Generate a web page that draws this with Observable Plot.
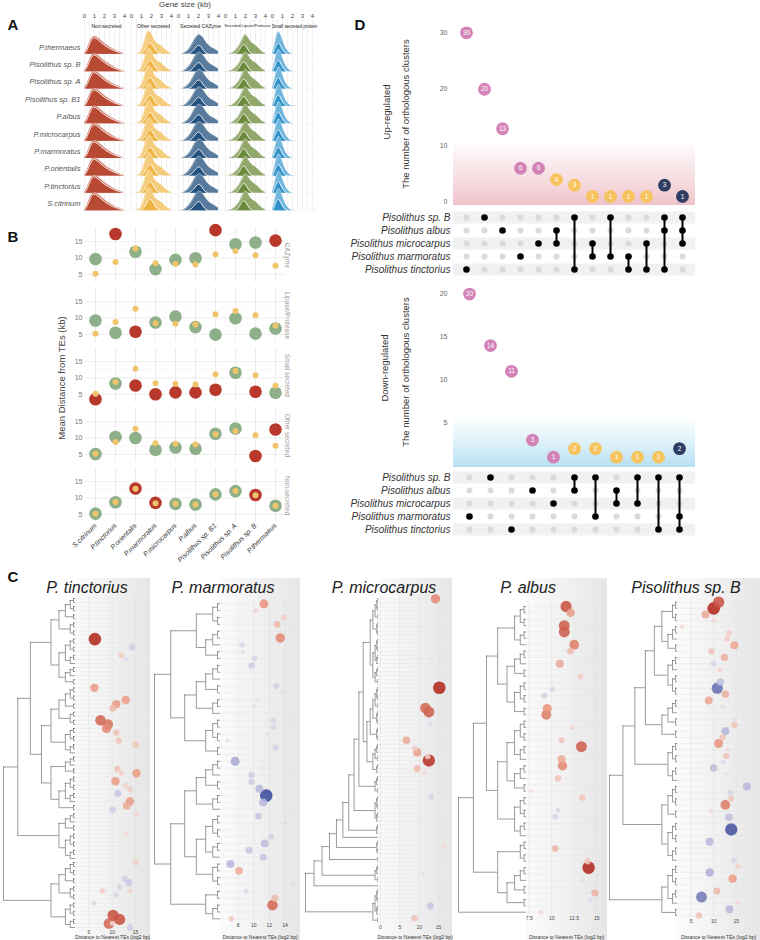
<!DOCTYPE html>
<html><head><meta charset="utf-8">
<script src="https://cdn.jsdelivr.net/npm/d3@7"></script>
<script src="https://cdn.jsdelivr.net/npm/@observablehq/plot@0.6"></script>
<style>
body{margin:0;background:#fff;font-family:"Liberation Sans",Arial,sans-serif;}
#fig{position:relative;width:760px;height:940px;overflow:hidden;background:#fff;}
.lbl{position:absolute;white-space:nowrap;line-height:1;}
</style></head><body><div id="fig"></div>
<script>
// ================= DATA =================
// ---- Panel A: gene size ridgelines ----
const geneSize = [0,0.25,0.5,0.75,1,1.25,1.5,1.75,2,2.25,2.5,2.75,3,3.25,3.5,3.75,4];
const speciesA = ["P.thermaeus","Pisolithus sp. B","Pisolithus sp. A","Pisolithus sp. B1","P.albus","P.microcarpus","P.marmoratus","P.orientalis","P.tinctorius","S.citrinum"];
const catsA = ["Non-secreted","Other secreted","Secreted CAZyme","Secreted Lipase/Protease","Small secreted protein"];
const densNonSec  = [0.02,0.25,0.62,0.90,1.00,0.95,0.84,0.72,0.60,0.50,0.41,0.33,0.26,0.19,0.13,0.08,0.04];
const innerNonSec = [0.02,0.22,0.58,0.86,0.92,0.85,0.72,0.60,0.50,0.40,0.32,0.25,0.19,0.14,0.09,0.06,0.03];
const densOther   = [0,0,0,0.04,0.15,0.45,0.85,1.00,0.88,0.62,0.46,0.42,0.36,0.25,0.15,0.08,0.04];
const innerOther  = [0,0,0,0,0.02,0.12,0.32,0.48,0.46,0.28,0.10,0.03,0,0,0,0,0];
const densCAZyme  = [0,0,0.03,0.10,0.22,0.40,0.62,0.85,1.00,0.96,0.82,0.62,0.46,0.36,0.30,0.22,0.14];
const innerCAZyme = [0,0,0,0,0.02,0.08,0.20,0.38,0.48,0.40,0.18,0.05,0,0,0,0,0];
const densLipase  = [0,0,0.02,0.08,0.18,0.30,0.50,0.78,1.00,0.82,0.62,0.50,0.44,0.34,0.20,0.10,0.05];
const innerLipase = [0,0,0,0,0.02,0.10,0.32,0.50,0.44,0.22,0.05,0,0,0,0,0,0];
const densSmall   = [0,0.45,0.95,0.90,0.60,0.32,0.14,0.05,0.01,0,0,0,0,0,0,0,0];
const innerSmall  = [0,0.25,0.52,0.42,0.18,0.05,0,0,0,0,0,0,0,0,0,0,0];
const ridgeHeight = [1.05,1.4,1.15,1.2,1.4];
const facetLabelSize = [5,5,5,4,4.6];
const outerColor = ["#cb7562","#f5cc7c","#587b9d","#92a86b","#70b6dd"];
const innerColor = ["#b84a33","#efb544","#23527f","#6c8a3b","#2f91c8"];

// ---- Panel B: mean distance from TEs ----
const speciesB = ["S.citrinum","P.tinctorius","P.orientalis","P.marmoratus","P.microcarpus","P.albus","Pisolithus sp. B1","Pisolithus sp. A","Pisolithus sp. B","P.thermaeus"];
const catsB = ["CAZyme","Lipase/Protease","Small secreted","Other secreted","Non-secreted"];
const genomeMean = [5.2,8.8,12.8,8.4,8.2,8.0,11.1,12.1,10.8,7.6];
const distCAZyme = [9.7,17.3,11.9,6.6,9.4,9.9,18.5,14.2,14.7,15.3];
const sigCAZyme  = [0,1,0,0,0,0,1,0,0,1];
const distLipase = [9.2,5.5,5.8,8.6,10.4,7.2,4.9,9.9,5.2,6.8];
const sigLipase  = [0,0,1,0,0,0,0,0,0,0];
const distSmall  = [3.5,8.3,7.7,5.0,5.6,5.6,6.4,11.6,5.8,5.5];
const sigSmall   = [1,0,1,1,1,1,1,0,1,0];
const distOther  = [5.1,10.3,10.0,6.4,7.1,6.7,11.3,12.9,4.5,12.6];
const sigOther   = [0,0,0,0,0,0,0,0,1,1];
const distNonSec = [5.2,8.7,12.9,8.5,8.2,8.0,11.1,12.1,10.9,7.6];
const sigNonSec  = [0,0,1,1,0,0,0,0,1,0];

// ---- Panel D: shared orthologous clusters ----
const speciesD = ["Pisolithus sp. B","Pisolithus albus","Pisolithus microcarpus","Pisolithus marmoratus","Pisolithus tinctorius"];
const upCounts = [30,20,13,6,6,4,3,1,1,1,1,3,1];
const upSets = [[4],[0],[1],[3],[2],[1,2],[0,4],[2,3],[0,3],[3,4],[2,4],[0,1,4],[0,1,2]];
const downCounts = [20,14,11,3,1,2,2,1,1,1,2];
const downSets = [[3],[0],[4],[1],[2],[0,1],[0,3],[1,2],[0,2],[0,4],[0,3,4]];
const degreeColor = ["#d383b7","#f7c35e","#2f3d63"];

// ---- Panel C: clustering trees + bubbles [leaf, distance (log2 bp), log2FC] ----
const motifs = {a:"((..)(..))", b:"(((..).)(..))", c:"((..).)", d:"(..)", e:"(((..)(..))((..).))", f:"((((..)(..))(..))((..)(..)))"};
const treeTinct = "((((f(eb))((fe)(b(ed))))(be))(fe))";
const treeMarm  = "(((a(cd))((bc)(ad)))(((bc)(ea))(dc)))";
const treeMicro = "((((((((" + "(((f(eb))((fa)(bc)))(cd))" + "e)c).)a)d)b).)(ed))";
const treeAlbus = "(((((ac)(b(ad)))((eb)(ac)))(a(bd))).)";
const treeSpB   = "((((((ab)(ca))(bd))(ac))((ad)e))((ac)d))";
const bubTinct = [[10,6.3,4],[12,14.3,-1],[14,11.9,0.8],[15,12.9,-0.6],[22,6.2,1.8],[25,12.9,1.8],[26,10.9,1.8],[27,10.1,1.2],[30,7.5,2.8],[31,9.1,2.6],[32,8.8,2.2],[33,10.9,1.0],[35,11.4,1.0],[36,15,1.0],[42,11.1,1.0],[43,12,0.7],[43,15.2,1.8],[45,10.7,1.8],[46,12.9,0.7],[47,13.8,0.8],[48,11.2,-1.2],[50,13.8,1.8],[51,13.1,1.5],[52,10.1,-1],[53,15.2,0.6],[58,12.9,0.5],[65,15.1,0.8],[69,12.7,-1],[70,13.6,-1.2],[71,11.6,-0.8],[72,7.9,0.8],[72,13.9,0.6],[73,10.9,-0.7],[75,6.1,-0.6],[78,10.2,3.2],[79,11.6,3.2],[80,9.3,2.8],[80,10.0,0.6],[81,13.8,-1]];
const bubMarm = [[0,11.3,2],[1,10.3,0.6],[2,13.9,0.8],[3,13.0,1.2],[5,13.4,2.2],[6,8.5,-0.7],[7,8.6,-0.5],[8,10.1,-0.8],[9,9.7,-1],[10,9.6,-0.3],[12,12.9,-0.9],[13,13.7,-0.5],[14,10.5,-0.5],[15,10.1,-0.5],[17,12.5,-0.8],[18,12.5,-0.8],[19,11.7,-0.4],[20,6.6,-0.4],[21,12.8,-0.9],[23,7.6,-2],[24,11.0,-0.4],[25,9.7,-1],[26,9.7,-1],[27,10.7,-1.6],[28,11.6,-4],[29,11.2,-1.6],[31,10.6,-1.2],[32,14,-0.6],[34,12.2,-0.9],[35,11.4,-1.5],[36,9.4,-1.2],[37,11.2,-1.2],[38,7.0,-1.6],[39,8.1,1.5],[41,15,-0.5],[42,9,-0.6],[43,12.7,1.2],[44,12.4,2.8],[46,7.1,0.8]];
const bubMicro = [[0,14.2,2.2],[15,13.2,-0.4],[22,15.2,4],[27,11.6,2.8],[28,12.5,3],[31,12.8,-0.6],[35,6.7,1.5],[37,8.9,0.8],[38,9.5,1.7],[39,12.2,0.8],[40,12.5,3.8],[42,9.5,1.2],[43,11.4,0.5],[49,13.1,-0.8],[61,16.2,0.5],[68,11.2,0.4],[76,12.9,-1.2],[79,8.8,1]];
const bubAlbus = [[0,11.6,3.2],[1,12.1,1.8],[3,11.4,3],[4,11.4,3],[6,12.5,2.4],[7,12.1,1.2],[9,10.9,1.6],[11,13.2,0.8],[13,10.1,-0.7],[14,9.2,-0.9],[16,9.5,2],[17,9.4,2.4],[19,12.3,0.6],[21,11.1,0.9],[22,13.3,3],[24,11.1,1.6],[25,11.2,2.2],[27,10.7,1],[29,7.7,0.4],[30,13.4,1],[32,10.7,-0.6],[33,10.4,-0.8],[38,10.4,1.2],[40,14.0,1],[41,14.1,4],[43,13.5,0.5],[45,14.8,1.3],[46,14.3,-0.6],[48,8.8,0.5]];
const bubSpB = [[0,11.1,3.2],[1,10.0,4],[2,8.2,1.6],[3,10,0.5],[4,3,0.5],[5,13.4,0.8],[6,13.0,0.8],[7,14.6,1.6],[8,9.5,1],[9,12.4,1.4],[10,10,-0.8],[11,11.4,0.6],[13,11.5,-1.4],[14,10.8,-3.2],[15,12.6,1.4],[16,8.9,1.6],[17,12,-0.5],[18,14.8,-0.3],[19,14.7,-0.5],[20,14.6,1],[21,12.6,-1.6],[22,12,1],[23,11.1,2],[24,13.1,0.5],[25,12.8,1],[26,12.1,-0.6],[27,10,-1.4],[28,12.8,-0.4],[30,17.4,-1.6],[31,13.7,-0.8],[32,13.9,0.9],[33,12.6,2.4],[34,9.5,0.5],[35,13.4,-1.4],[37,13.9,-3.8],[39,9.1,-1.6],[42,14.5,-0.8],[43,15.4,0.7],[44,9.1,-1.8],[45,14.2,1.8],[47,10.7,1.2],[48,7.3,-3],[49,15.4,0.5],[50,13.5,-1.6],[51,6.7,1]];

// ================= HELPERS =================
const FONT = "'Liberation Sans', Arial, Helvetica, sans-serif";
const NARROW = "'Liberation Sans Narrow', 'Liberation Sans', Arial, sans-serif";
const fig = document.getElementById("fig");
function addPlot(node, left, top) {
  node.style.position = "absolute"; node.style.left = left + "px"; node.style.top = top + "px";
  node.style.background = "transparent"; fig.appendChild(node);
}
function label(text, x, y, o = {}) {
  const d = document.createElement("div");
  d.className = "lbl"; d.textContent = text;
  d.style.fontSize = (o.size || 10) + "px";
  d.style.color = o.color || "#222";
  d.style.fontWeight = o.weight || "normal";
  d.style.fontStyle = o.italic ? "italic" : "normal";
  if (o.family) d.style.fontFamily = o.family;
  d.style.left = x + "px"; d.style.top = y + "px";
  const ax = o.anchor === "start" ? "0%" : o.anchor === "end" ? "-100%" : "-50%";
  d.style.transform = `translate(${ax},-50%)` + (o.rotate ? ` rotate(${o.rotate}deg)` : "");
  fig.appendChild(d);
}
function vGradient(id, color, v0, v1) {
  return (index, scales, values, dim) => {
    const g = d3.create("svg:g");
    const lg = g.append("defs").append("linearGradient").attr("id", id)
      .attr("x1", 0).attr("y1", 1).attr("x2", 0).attr("y2", 0);
    lg.append("stop").attr("offset", 0).attr("stop-color", color).attr("stop-opacity", 1);
    lg.append("stop").attr("offset", 0.35).attr("stop-color", color).attr("stop-opacity", 0.6);
    lg.append("stop").attr("offset", 1).attr("stop-color", color).attr("stop-opacity", 0);
    const ya = scales.y(v0), yb = scales.y(v1);
    g.append("rect").attr("x", dim.marginLeft).attr("y", Math.min(ya, yb))
      .attr("width", dim.width - dim.marginLeft - dim.marginRight).attr("height", Math.abs(ya - yb))
      .attr("fill", `url(#${id})`);
    return g.node();
  };
}
function hGradient(id, c0, c1) {
  return (index, scales, values, dim) => {
    const g = d3.create("svg:g");
    const lg = g.append("defs").append("linearGradient").attr("id", id)
      .attr("x1", 0).attr("y1", 0).attr("x2", 1).attr("y2", 0);
    lg.append("stop").attr("offset", 0).attr("stop-color", c0);
    lg.append("stop").attr("offset", 1).attr("stop-color", c1);
    g.append("rect").attr("x", dim.marginLeft).attr("y", 0)
      .attr("width", dim.width - dim.marginLeft - dim.marginRight).attr("height", dim.height)
      .attr("fill", `url(#${id})`);
    return g.node();
  };
}

// ================= PANEL A =================
{
  const outerDens = [densNonSec, densOther, densCAZyme, densLipase, densSmall];
  const innerDens = [innerNonSec, innerOther, innerCAZyme, innerLipase, innerSmall];
  const rows = [];
  speciesA.forEach((sp, i) => catsA.forEach((cat, c) => {
    geneSize.forEach((g, k) => {
      rows.push({sp, cat, layer: "outer", g, base: 9 - i, top: 9 - i + outerDens[c][k] * ridgeHeight[c], fill: outerColor[c]});
      const inn = innerDens[c];
      if (inn[k] > 0 || inn[k - 1] > 0 || inn[k + 1] > 0)
        rows.push({sp, cat, layer: "inner", g, base: 9 - i, top: 9 - i + inn[k] * ridgeHeight[c], fill: innerColor[c]});
    });
  }));
  const marks = [
    Plot.gridX({ticks: [0,0.5,1,1.5,2,2.5,3,3.5,4], stroke: "#e2e2e2", strokeOpacity: 1, strokeWidth: 0.5}),
    Plot.ruleY(d3.range(10), {stroke: "#ececec", strokeWidth: 0.5})
  ];
  speciesA.forEach(sp => {
    for (const layer of ["outer", "inner"]) {
      const r = rows.filter(d => d.sp === sp && d.layer === layer);
      marks.push(Plot.areaY(r, {x: "g", y1: "base", y2: "top", fx: "cat", z: "cat", fill: "fill", curve: "basis"}));
      marks.push(Plot.lineY(r, {x: "g", y: "top", fx: "cat", z: "cat", stroke: "white", strokeWidth: layer === "inner" ? 0.9 : 0.5, strokeOpacity: layer === "inner" ? 1 : 0.7, curve: "basis"}));
    }
  });
  marks.push(
    Plot.axisX({anchor: "top", ticks: [0,1,2,3,4], tickFormat: d => String(d), tickSize: 0, tickPadding: 2, fontSize: 6, fill: "#444", label: null}),
    Plot.axisY({ticks: d3.range(10), tickFormat: v => speciesA[9 - v], tickSize: 0, tickPadding: 3, dy: -7, fontSize: 7.5, fontStyle: "italic", fill: "#555", label: null}),
    Plot.text(catsA, {fx: d => d, text: d => d, frameAnchor: "top", dy: 5, fontSize: (d, i) => facetLabelSize[catsA.indexOf(d)], fill: "#222"})
  );
  const pA = Plot.plot({
    width: 322, height: 213, marginTop: 19, marginBottom: 2, marginLeft: 82, marginRight: 5,
    style: {fontFamily: FONT, background: "transparent"},
    x: {domain: [-0.1, 4.5]},
    y: {domain: [-0.05, 11]},
    fx: {domain: catsA, paddingInner: 0.03, paddingOuter: 0, axis: null, label: null},
    color: {type: "identity"},
    marks
  });
  addPlot(pA, 0, 0);
  label("Gene size (kb)", 185, 5, {size: 8, color: "#444"});
}

// ================= PANEL B =================
{
  const distB = [distCAZyme, distLipase, distSmall, distOther, distNonSec];
  const sigB = [sigCAZyme, sigLipase, sigSmall, sigOther, sigNonSec];
  const dataB = catsB.flatMap((cat, c) => speciesB.map((sp, i) => ({cat, sp, dist: distB[c][i], sig: sigB[c][i], mean: genomeMean[i]})));
  const pB = Plot.plot({
    width: 300, height: 347, marginTop: 6, marginBottom: 44, marginLeft: 85, marginRight: 15,
    style: {fontFamily: FONT, background: "transparent"},
    x: {type: "point", domain: speciesB, padding: 0.5},
    y: {domain: [2.5, 19]},
    fy: {domain: catsB, paddingInner: 0.1, paddingOuter: 0},
    color: {type: "identity"},
    marks: [
      Plot.gridY({ticks: [7.5,12.5,17.5], stroke: "#f1f1f1", strokeOpacity: 1, strokeWidth: 0.5}),
      Plot.gridY({ticks: [5,10,15], stroke: "#e5e5e5", strokeOpacity: 1, strokeWidth: 0.7}),
      Plot.gridX({stroke: "#e5e5e5", strokeOpacity: 1, strokeWidth: 0.7}),
      Plot.dot(dataB, {x: "sp", y: "dist", fy: "cat", r: 6.3, fill: d => d.sig ? "#b8392c" : "#8daf89"}),
      Plot.dot(dataB, {x: "sp", y: "mean", fy: "cat", r: 3, fill: "#efc46b"}),
      Plot.axisY({ticks: [5,10,15], tickSize: 0, tickPadding: 3, fontSize: 7, fill: "#777", label: null}),
      Plot.axisFy({anchor: "right", tickSize: 0, tickPadding: 4, tickRotate: 90, fontSize: 6.5, fill: "#999", label: null}),
      Plot.axisX({tickSize: 0, tickPadding: 2, tickRotate: -45, fontSize: 7, fontStyle: "italic", fill: "#333", label: null})
    ]
  });
  addPlot(pB, 0, 220);
  label("Mean Distance from TEs (kb)", 62, 378, {size: 9.5, color: "#444", rotate: -90});
}

// ================= PANEL D =================
function upset(counts, sets, cfg) {
  const n = counts.length;
  const cols = counts.map((count, i) => ({col: i, count, color: degreeColor[sets[i].length - 1]}));
  const cells = [];
  sets.forEach((s, i) => speciesD.forEach((sp, j) => cells.push({col: i, sp, on: s.includes(j)})));
  const lines = sets.map((s, i) => ({col: i, from: speciesD[d3.min(s)], to: speciesD[d3.max(s)], k: s.length})).filter(d => d.k > 1);
  const xOpt = {type: "point", domain: d3.range(n), padding: cfg.pad, axis: null};
  const top = Plot.plot({
    width: 370, height: cfg.topH, marginTop: 3, marginBottom: 0, marginLeft: 113, marginRight: 15,
    style: {fontFamily: FONT, background: "transparent"},
    x: xOpt, y: {domain: cfg.yDomain}, color: {type: "identity"},
    marks: [
      vGradient(cfg.id, cfg.grad, cfg.yDomain[0], cfg.gradTop),
      Plot.axisY({ticks: cfg.ticks, tickSize: 0, tickPadding: 6, fontSize: 7, fill: "#666", label: null}),
      Plot.dot(cols, {x: "col", y: "count", r: 6.4, fill: "color"}),
      Plot.text(cols, {x: "col", y: "count", text: d => String(d.count), fill: "white", fontSize: 6.5})
    ]
  });
  const mat = Plot.plot({
    width: 370, height: 69, marginTop: 1, marginBottom: 2, marginLeft: 113, marginRight: 15,
    style: {fontFamily: FONT, background: "transparent"},
    x: xOpt, y: {type: "point", domain: speciesD, padding: 0.5}, color: {type: "identity"},
    marks: [
      Plot.ruleY([speciesD[0], speciesD[2], speciesD[4]], {stroke: "#f1f1f1", strokeWidth: 12}),
      Plot.dot(cells.filter(d => !d.on), {x: "col", y: "sp", r: 3, fill: "#dadada"}),
      Plot.ruleX(lines, {x: "col", y1: "from", y2: "to", stroke: "black", strokeWidth: 2}),
      Plot.dot(cells.filter(d => d.on), {x: "col", y: "sp", r: 3.3, fill: "black"}),
      Plot.axisY({tickSize: 0, tickPadding: 3, fontSize: 10, fontStyle: "italic", fill: "#333", label: null})
    ]
  });
  addPlot(top, 340, cfg.top);
  addPlot(mat, 340, cfg.matTop);
}
upset(upCounts, upSets, {pad: 0.61, topH: 187, yDomain: [-0.6, 32], ticks: [0,10,20,30], id: "gUp", grad: "#efc3ca", gradTop: 11, top: 18, matTop: 209});
upset(downCounts, downSets, {pad: 0.575, topH: 185, yDomain: [-0.2, 21], ticks: [5,10,15,20], id: "gDown", grad: "#b5e0f2", gradTop: 5.6, top: 282, matTop: 469});
label("Up-regulated", 387, 112, {size: 9.5, color: "#333", rotate: -90});
label("The number of orthologous clusters", 406, 114, {size: 9.5, color: "#333", rotate: -90});
label("Down-regulated", 385, 368, {size: 9.5, color: "#333", rotate: -90});
label("The number of orthologous clusters", 406, 372, {size: 9.5, color: "#333", rotate: -90});

// ================= PANEL C =================
function parseTree(s) {
  s = s.replace(/[a-f]/g, m => motifs[m]);
  let i = 0;
  function node() {
    if (s[i] === ".") { i++; return {children: null}; }
    i++;
    const ch = [];
    while (i < s.length && s[i] !== ")") ch.push(node());
    i++;
    return {children: ch};
  }
  return node();
}
function layoutTree(root) {
  let count = 0; const v = [], h = [];
  const xv = n => n.h === 0 ? 0 : n.h + 0.6;
  function walk(n) {
    if (!n.children) { n.y = count++; n.h = 0; return; }
    n.children.forEach(walk);
    n.h = 1 + d3.max(n.children, c => c.h);
    const ys = n.children.map(c => c.y);
    n.y = (ys[0] + ys[ys.length - 1]) / 2;
  }
  walk(root);
  function segs(n) {
    if (!n.children) return;
    const ys = n.children.map(c => c.y);
    v.push({x: xv(n), y1: d3.min(ys), y2: d3.max(ys)});
    n.children.forEach(c => { h.push({y: c.y, x1: xv(n), x2: xv(c)}); segs(c); });
  }
  segs(root);
  return {n: count, top: xv(root), v, h};
}
const cPanels = [
  {name: "P. tinctorius", tree: treeTinct, bub: bubTinct, dLeft: 3, leafX: 75, right: 150, leaf0: 598, leafN: 927, xDomain: [2.15, 18.2], ticks: [5,10,15], titleX: 87},
  {name: "P. marmoratus", tree: treeMarm, bub: bubMarm, dLeft: 154, leafX: 220, right: 300, leaf0: 603.3, leafN: 918.3, xDomain: [5.72, 16], ticks: [8,10,12,14], titleX: 223},
  {name: "P. microcarpus", tree: treeMicro, bub: bubMicro, dLeft: 305, leafX: 378, right: 452, leaf0: 598.3, leafN: 921.7, xDomain: [-0.5, 18.6], ticks: [0,5,10,15], titleX: 384},
  {name: "P. albus", tree: treeAlbus, bub: bubAlbus, dLeft: 458, leafX: 526, right: 607, leaf0: 606, leafN: 911.7, xDomain: [7.2, 16.2], ticks: [7.5,10,12.5,15], titleX: 528},
  {name: "Pisolithus sp. B", tree: treeSpB, bub: bubSpB, dLeft: 609, leafX: 677, right: 760, leaf0: 601.7, leafN: 915, xDomain: [1.96, 20.4], ticks: [5,10,15], titleX: 686}
];
const C_TOP = 578, C_H = 362;
cPanels.forEach((p, idx) => {
  const t = layoutTree(parseTree(p.tree));
  const sp = (p.leafN - p.leaf0) / (t.n - 1);
  const mT = p.leaf0 - sp / 2 - C_TOP;
  const mB = (C_TOP + C_H) - (p.leafN + sp / 2);
  const yOpt = {domain: [-0.5, t.n - 0.5], reverse: true, axis: null};
  const bub = Plot.plot({
    width: p.right - p.leafX, height: C_H, marginTop: mT, marginBottom: mB, marginLeft: 0, marginRight: 0,
    style: {fontFamily: FONT, background: "transparent"},
    x: {domain: p.xDomain},
    y: yOpt,
    r: {domain: [0, 4], range: [0, 6.3]},
    color: {type: "linear", domain: [-4, -2, 0, 2, 4], range: ["#3b4c9b", "#a9a9d5", "#f5f1f2", "#e8947c", "#b3281f"]},
    marks: [
      hGradient("gC" + idx, "#fbfbfb", "#e6e6e6"),
      Plot.gridX({ticks: p.ticks, stroke: "#dcdcdc", strokeOpacity: 1, strokeWidth: 0.5}),
      Plot.ruleY(d3.range(t.n), {stroke: "#e3e3e3", strokeWidth: 0.4}),
      Plot.dot(p.bub, {x: d => d[1], y: d => d[0], r: d => Math.abs(d[2]), fill: d => d[2], fillOpacity: 0.88}),
      Plot.axisX({ticks: p.ticks, tickFormat: d => String(d), tickSize: 0, tickPadding: 1, fontSize: 5, fill: "#444", label: null})
    ]
  });
  addPlot(bub, p.leafX, C_TOP);
  const den = Plot.plot({
    width: p.leafX - p.dLeft + 1, height: C_H, marginTop: mT, marginBottom: mB, marginLeft: 1, marginRight: 0,
    style: {fontFamily: FONT, background: "transparent"},
    x: {type: "pow", exponent: 2, domain: [t.top, 0], axis: null},
    y: yOpt,
    marks: [
      Plot.ruleX(t.v, {x: "x", y1: "y1", y2: "y2", stroke: "#555", strokeWidth: 0.6}),
      Plot.ruleY(t.h, {y: "y", x1: "x1", x2: "x2", stroke: "#555", strokeWidth: 0.6})
    ]
  });
  addPlot(den, p.dLeft - 1, C_TOP);
  label(p.name, p.titleX, 588, {size: 16, italic: true, color: "#222", family: NARROW});
  label("Distance to Nearest TEs (log2 bp)", (p.leafX + p.right) / 2, 937, {size: 5, color: "#333"});
});

// ================= PANEL LETTERS =================
label("A", 13, 24, {size: 15, weight: "bold", color: "#111"});
label("B", 13, 236, {size: 15, weight: "bold", color: "#111"});
label("C", 13, 576, {size: 15, weight: "bold", color: "#111"});
label("D", 360, 24, {size: 15, weight: "bold", color: "#111"});
</script></body></html>
